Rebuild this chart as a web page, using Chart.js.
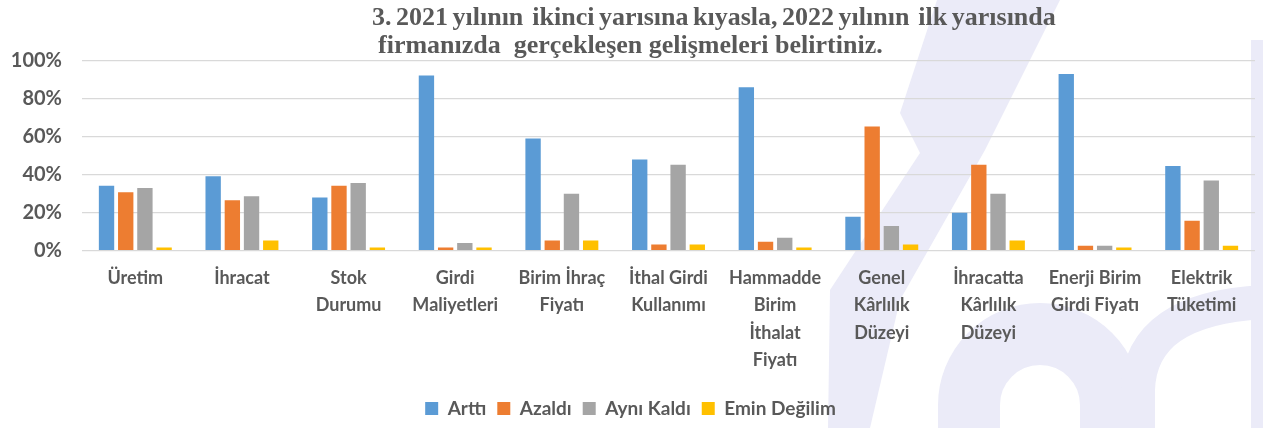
<!DOCTYPE html>
<html>
<head>
<meta charset="utf-8">
<script src="https://cdn.jsdelivr.net/npm/chart.js@4/dist/chart.umd.min.js"></script>
<style>
  html, body { margin: 0; padding: 0; background: #ffffff; }
  #wrap { position: relative; width: 1263px; height: 428px; overflow: hidden; }
  #title {
    position: absolute; left: 372px; top: 3px; z-index: 2;
    font-family: "Liberation Serif", "DejaVu Serif", serif; font-weight: bold;
    font-size: 26px; line-height: 28px; color: #595959; white-space: pre;
  }
  #title .l1 { word-spacing: -2px; }
  #title .l2 { padding-left: 6px; }
</style>
</head>
<body>
<div id="wrap">
  <div id="title"><div class="l1">3. 2021 yılının  ikinci yarısına kıyasla, 2022 yılının  ilk yarısında</div><div class="l2">firmanızda  gerçekleşen gelişmeleri belirtiniz.</div></div>
  <canvas id="c" width="1263" height="428"></canvas>
</div>
<script>
const categories = [
  ['Üretim'], ['İhracat'], ['Stok', 'Durumu'], ['Girdi', 'Maliyetleri'],
  ['Birim İhraç', 'Fiyatı'], ['İthal Girdi', 'Kullanımı'],
  ['Hammadde', 'Birim', 'İthalat', 'Fiyatı'], ['Genel', 'Kârlılık', 'Düzeyi'],
  ['İhracatta', 'Kârlılık', 'Düzeyi'], ['Enerji Birim', 'Girdi Fiyatı'], ['Elektrik', 'Tüketimi']
];
const seriesNames = ['Arttı', 'Azaldı', 'Aynı Kaldı', 'Emin Değilim'];
const arttı   = [34.2, 39.2, 28.0, 92.4, 59.1, 48.1, 86.1, 17.8, 19.9, 93.1, 44.6];
const azaldı  = [30.8, 26.6, 34.2, 1.6, 5.3, 3.2, 4.6, 65.4, 45.3, 2.5, 15.7];
const aynıKaldı = [33.0, 28.7, 35.6, 4.0, 30.0, 45.3, 6.7, 12.9, 30.0, 2.5, 37.0];
const eminDeğilim = [1.6, 5.3, 1.6, 1.6, 5.3, 3.2, 1.6, 3.2, 5.3, 1.6, 2.5];
const yTicks = [0, 20, 40, 60, 80, 100];

const colors = ['#5B9BD5', '#ED7D31', '#A5A5A5', '#FFC000'];
const textColor = '#595959';
const sans = 'Lato, "Open Sans", "Liberation Sans", sans-serif';

const watermark = {
  id: 'watermark',
  beforeDraw(chart) {
    const ctx = chart.ctx;
    ctx.save();
    ctx.fillStyle = '#ffffff';
    ctx.fillRect(0, 0, chart.width, chart.height);
    const lav = 'rgb(235,235,248)';
    ctx.fillStyle = lav;
    ctx.strokeStyle = lav;
    // diagonal band
    ctx.beginPath();
    ctx.moveTo(937, 0); ctx.lineTo(1060, 0); ctx.lineTo(985, 150); ctx.lineTo(900, 300);
    ctx.lineTo(870, 428); ctx.lineTo(828, 428); ctx.lineTo(830, 290); ctx.lineTo(920, 153);
    ctx.lineTo(900, 113); ctx.closePath(); ctx.fill();
    // arch
    ctx.lineWidth = 62;
    ctx.beginPath(); ctx.arc(1040, 405, 71, Math.PI, 0); ctx.stroke();
    ctx.fillRect(938, 404, 62, 26); ctx.fillRect(1080, 404, 62, 26);
    // curve
    ctx.lineWidth = 34;
    ctx.beginPath(); ctx.moveTo(1138, 430); ctx.lineTo(1138, 390);
    ctx.quadraticCurveTo(1140, 308, 1265, 302); ctx.stroke();
    // right stripe
    ctx.fillRect(1251, 40, 12, 388);
    ctx.restore();
  }
};

const datasets = [arttı, azaldı, aynıKaldı, eminDeğilim].map((d, i) => ({
  label: seriesNames[i], data: d, backgroundColor: colors[i], borderWidth: 0,
  categoryPercentage: 0.72, barPercentage: 0.8
}));

new Chart(document.getElementById('c'), {
  type: 'bar',
  data: { labels: categories, datasets },
  plugins: [watermark],
  options: {
    responsive: false, animation: false,
    layout: { padding: { left: 6, right: 8, top: 61, bottom: 0 } },
    plugins: {
      title: { display: false },
      tooltip: { enabled: false },
      legend: {
        position: 'bottom',
        labels: {
          color: textColor, boxWidth: 13, boxHeight: 13, padding: 11,
          font: { family: sans, size: 19, weight: 'bold' }
        }
      }
    },
    scales: {
      x: {
        grid: { display: false, drawTicks: false },
        border: { display: false },
        ticks: {
          color: textColor, padding: 14, maxRotation: 0, autoSkip: false,
          font: { family: sans, size: 18, weight: 'bold', lineHeight: 1.52 }
        }
      },
      y: {
        min: 0, max: 100,
        afterBuildTicks(axis) { axis.ticks = yTicks.map(v => ({ value: v })); },
        afterFit(axis) { axis.width = 76; },
        grid: { color: '#d9d9d9', lineWidth: 1.3, drawTicks: false },
        border: { display: false },
        ticks: {
          color: textColor, padding: 20,
          font: { family: sans, size: 20, weight: 'bold' },
          callback: v => v + '%'
        }
      }
    }
  }
});
</script>
</body>
</html>
